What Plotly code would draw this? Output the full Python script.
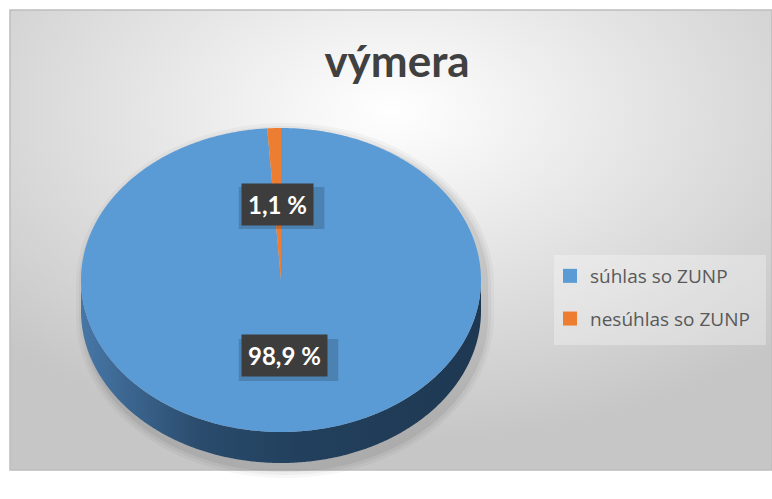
import base64
import numpy as np
import plotly.graph_objects as go

# ---- data ----
labels = ["súhlas so ZUNP", "nesúhlas so ZUNP"]
values = [98.9, 1.1]
label_texts = ["98,9 %", "1,1 %"]
colors = ["#5b9bd5", "#ed7d31"]
side_scales = [
    [[0, "#4777a7"], [0.3, "#2a4b6c"], [0.55, "#22405d"], [1, "#1e3852"]],
    [[0, "#b75d22"], [1, "#8a4518"]],
]
title_text = "výmera"

# ---- geometry (pixel space) ----
W, H = 772, 499
CX, CY, RX, RY, DEPTH = 281, 280, 200, 152, 31
LABEL_FONT = 24


def arc(a0, a1, cy, grow=0.0, n=None):
    if n is None:
        n = max(4, int(abs(a1 - a0) * 2))
    t = np.radians(np.linspace(a0, a1, n))
    return (CX + (RX + grow) * np.sin(t)), (cy - (RY + grow) * np.cos(t))


fig = go.Figure()

# soft shadow of the whole pie
for k, op in [(9, 0.03), (6, 0.04), (3, 0.06)]:
    x1, y1 = arc(-90, 90, CY + 4, grow=k)
    x2, y2 = arc(90, 270, CY + DEPTH + 6, grow=k)
    fig.add_trace(go.Scatter(
        x=np.concatenate([x1, x2]) + 4, y=np.concatenate([y1, y2]),
        fill="toself", mode="none", fillcolor=f"rgba(0,0,0,{op})",
        showlegend=False, hoverinfo="skip"))

total = sum(values)
start = 0.0
slices = []
for lab, v in zip(labels, values):
    span = v / total * 360.0
    slices.append((lab, start, start + span))
    start += span

# side walls (front half only: clock angles 90..270)
for i, (lab, a, b) in enumerate(slices):
    lo, hi = max(a, 90.0), min(b, 270.0)
    if hi > lo:
        xt, yt = arc(lo, hi, CY)
        xb, yb = arc(hi, lo, CY + DEPTH)
        fig.add_trace(go.Scatter(
            x=np.concatenate([xt, xb]), y=np.concatenate([yt, yb]),
            fill="toself", mode="none",
            fillgradient=dict(type="horizontal", colorscale=side_scales[i]),
            showlegend=False, hoverinfo="skip"))

# top faces
for i, (lab, a, b) in enumerate(slices):
    xa, ya = arc(a, b, CY)
    fig.add_trace(go.Scatter(
        x=np.concatenate([[CX], xa, [CX]]), y=np.concatenate([[CY], ya, [CY]]),
        fill="toself", mode="none", fillcolor=colors[i],
        name=lab, showlegend=False, hoverinfo="name"))

# legend entries
for lab, c in zip(labels, colors):
    fig.add_trace(go.Scatter(
        x=[None], y=[None], mode="markers", name=lab, legendgroup=lab,
        marker=dict(symbol="square", size=14, color=c)))

# data labels at half radius along mid-angle
annotations = []
shapes = [
    dict(type="rect", xref="paper", yref="paper", x0=10 / W, x1=1.0,
         y0=1 - 470 / H, y1=1 - 10 / H, line=dict(color="#bdbdbd", width=1.5),
         fillcolor="rgba(0,0,0,0)", layer="below"),
    dict(type="rect", xref="x", yref="y", x0=554, x1=766, y0=255, y1=345,
         line=dict(width=0), fillcolor="rgba(255,255,255,0.3)", layer="below"),
]
for (lab, a, b), txt in zip(slices, label_texts):
    m = np.radians((a + b) / 2)
    lx = CX + 0.5 * RX * np.sin(m)
    ly = CY - 0.5 * RY * np.cos(m)
    half_w = len(txt) * LABEL_FONT * 0.29 + 8
    shapes.append(dict(type="rect", xref="x", yref="y",
                       x0=lx - half_w + 4, x1=lx + half_w + 4, y0=ly - 21 + 4, y1=ly + 21 + 4,
                       line=dict(width=0), fillcolor="rgba(0,0,0,0.16)", layer="above"))
    annotations.append(dict(
        x=lx, y=ly, xref="x", yref="y", text=f"<b>{txt}</b>", showarrow=False,
        font=dict(family="Lato", size=LABEL_FONT, color="white"),
        bgcolor="#3d3d3d", borderpad=6))

# background gradient image
svg = (
    '<svg xmlns="http://www.w3.org/2000/svg" width="762" height="460" '
    'preserveAspectRatio="none"><defs><radialGradient id="g" cx="0.5" cy="0.22" r="0.72">'
    '<stop offset="0" stop-color="#ffffff"/><stop offset="1" stop-color="#c6c6c6"/>'
    '</radialGradient></defs><rect x="0" y="0" width="762" height="460" fill="url(#g)"/></svg>'
)
src = "data:image/svg+xml;base64," + base64.b64encode(svg.encode()).decode()

fig.update_layout(
    width=W, height=H, margin=dict(l=0, r=0, t=0, b=0),
    paper_bgcolor="white", plot_bgcolor="rgba(0,0,0,0)",
    xaxis=dict(range=[0, W], visible=False, fixedrange=True),
    yaxis=dict(range=[H, 0], visible=False, fixedrange=True),
    showlegend=True,
    legend=dict(x=550 / W, y=1 - 257 / H, xanchor="left", yanchor="top",
                bgcolor="rgba(0,0,0,0)", tracegroupgap=15,
                font=dict(family="Open Sans", size=19, color="#595959")),
    title=dict(text=f"<b>{title_text}</b>", x=397 / W, xanchor="center",
               y=1 - 62 / H, yanchor="middle",
               font=dict(family="Lato", size=44, color="#404040")),
    annotations=annotations,
    images=[dict(source=src, xref="paper", yref="paper", x=10 / W, y=1 - 10 / H,
                 sizex=762 / W, sizey=460 / H, sizing="stretch", layer="below",
                 xanchor="left", yanchor="top")],
    shapes=shapes,
)

fig.write_html("out.html", config={"displayModeBar": False},
               post_script="document.body.style.margin='0px';")
